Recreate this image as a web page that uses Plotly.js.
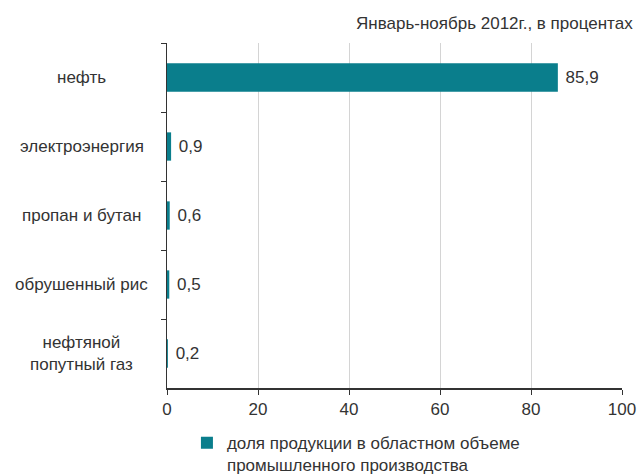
<!DOCTYPE html>
<html>
<head>
<meta charset="utf-8">
<script src="https://cdn.plot.ly/plotly-3.0.1.min.js"></script>
<style>html,body{margin:0;padding:0;background:#fff;}#chart{width:638px;height:475px;}</style>
</head>
<body>
<div id="chart"></div>
<script>
const categories = ["нефть", "электроэнергия", "пропан и бутан", "обрушенный рис", "нефтяной<br>попутный газ"];
const values = [85.9, 0.9, 0.6, 0.5, 0.2];
const seriesName = "доля продукции в областном объеме<br>промышленного производства";
const chartTitle = "Январь-ноябрь 2012г., в процентах";
const xTicks = [0, 20, 40, 60, 80, 100];

const FONT = "Liberation Sans, Arial, sans-serif";
const TXT = "#333333";
const BAR = "#0a7e8c";
const FS = 17;

const trace = {
  type: "bar",
  orientation: "h",
  y: categories,
  x: values,
  name: seriesName,
  marker: {color: BAR},
  width: 0.41,
  texttemplate: " %{x:.1f}",
  textposition: "outside",
  cliponaxis: false,
  textfont: {family: FONT, size: FS, color: TXT},
  showlegend: true
};

const annotations = categories.map(c => ({
  xref: "paper", yref: "y", x: -0.187, y: c,
  text: c, showarrow: false, xanchor: "center", yanchor: "middle",
  align: "center",
  font: {family: FONT, size: FS, color: TXT}
}));
annotations.push({
  xref: "paper", yref: "paper", x: 1.029, y: 1.0,
  xanchor: "right", yanchor: "bottom",
  text: chartTitle, showarrow: false,
  font: {family: FONT, size: FS, color: TXT},
  yshift: 8
});

const layout = {
  width: 638, height: 475,
  margin: {l: 167, r: 16, t: 43, b: 87},
  paper_bgcolor: "#ffffff",
  plot_bgcolor: "#ffffff",
  separators: ", ",
  font: {family: FONT, size: FS, color: TXT},
  bargap: 0.59,
  xaxis: {
    range: [0, 100],
    tickvals: xTicks,
    ticktext: xTicks.map(String),
    showgrid: true, gridcolor: "#d4d4d4", gridwidth: 1,
    zeroline: false,
    showline: true, linecolor: "#333333", linewidth: 1.5,
    ticks: "outside", ticklen: 5, tickcolor: "#333333",
    tickfont: {family: FONT, size: FS, color: TXT},
    fixedrange: true
  },
  yaxis: {
    type: "category",
    autorange: "reversed",
    showticklabels: false,
    tickson: "boundaries",
    ticks: "outside", ticklen: 5, tickcolor: "#333333",
    showline: true, linecolor: "#333333", linewidth: 1.5,
    showgrid: false, zeroline: false,
    fixedrange: true
  },
  showlegend: true,
  legend: {
    xref: "container", yref: "container",
    x: 0.293, xanchor: "left", y: 0.105, yanchor: "top",
    orientation: "h",
    valign: "top",
    font: {family: FONT, size: FS, color: TXT},
    bgcolor: "rgba(0,0,0,0)"
  },
  annotations: annotations
};

Plotly.newPlot("chart", [trace], layout, {displayModeBar: false, staticPlot: true});
</script>
</body>
</html>
